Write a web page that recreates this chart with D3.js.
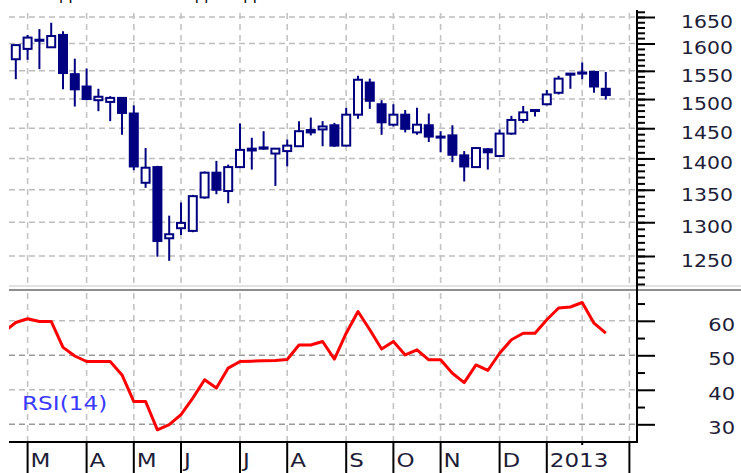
<!DOCTYPE html>
<html><head><meta charset="utf-8">
<script src="https://cdn.jsdelivr.net/npm/d3@7"></script>
<style>html,body{margin:0;padding:0;background:#fff;overflow:hidden}</style>
</head><body><svg id="c" width="741" height="473"></svg>
<script>
// ---------------- data ----------------
const title = "Support levels and upper approach";
const weeks = d3.range(0, 51);
const open  = [1571,1590,1605,1593,1616,1544,1522,1498,1495,1502,1475,1361,1386,1276,1291,1287,1338,1377,1348,1386,1416,1416,1408,1412,1420,1447,1448,1455,1421,1473,1529,1491,1456,1473,1443,1455,1436,1438,1405,1386,1415,1404,1441,1464,1480,1491,1511,1543,1545,1548,1518];
const high  = [1598,1616,1627,1639,1623,1572,1554,1518,1505,1503,1489,1417,1388,1310,1330,1342,1379,1396,1390,1458,1434,1445,1417,1431,1462,1468,1462,1459,1485,1541,1536,1498,1491,1481,1485,1475,1445,1455,1412,1418,1417,1448,1471,1488,1482,1516,1541,1546,1565,1550,1548];
const low   = [1535,1570,1553,1592,1517,1487,1498,1479,1462,1439,1381,1353,1249,1243,1281,1285,1336,1343,1329,1385,1382,1414,1356,1387,1419,1438,1420,1419,1420,1466,1483,1439,1453,1443,1439,1427,1410,1394,1363,1385,1382,1403,1439,1459,1470,1489,1508,1518,1535,1511,1499];
const close = [1597,1611,1607,1614,1546,1517,1500,1504,1502,1476,1387,1385,1272,1282,1299,1340,1377,1350,1386,1414,1413,1418,1416,1421,1445,1443,1453,1421,1473,1534,1497,1460,1473,1449,1456,1436,1435,1406,1387,1417,1410,1441,1464,1477,1481,1508,1536,1545,1547,1522,1507];
const rsiWeeks = d3.range(-1, 51);
const rsi = [56.8,59.5,60.6,59.8,59.8,52.3,49.8,48.2,48.2,48.2,44.3,36.6,36.6,28.4,29.9,32.8,37.6,42.9,40.5,46.3,48.2,48.3,48.4,48.5,48.8,53,53,54,48.9,56.4,62.7,57.4,51.8,54,50.1,51.6,48.7,48.7,44.8,42.1,47.2,45.6,50.6,54.5,56.4,56.4,60.3,63.7,64,65.3,59.3,56.4];
const priceTicks = [1250,1300,1350,1400,1450,1500,1550,1600,1650];
const priceMinorTicks = d3.range(1210, 1661, 10);
const rsiTicks = [30,40,50,60];
const rsiMinorTicks = [35,45,55,65];
const rsiDarkGrid = [30,50];
const monthLabels = ["M","A","M","J","J","A","S","O","N","D","2013"];
const monthStartWeeks = [1,6,10,14,19,23,28,32,36,41,45];
const extraGridWeeks = [48,52];
const bandEndWeek = 52;

// ---------------- layout ----------------
const L = 9, R = 637;
const svg = d3.select("#c");
const x = d3.scaleLinear().domain([0, 50]).range([15.8, 605.8]);
const y = d3.scaleLog().domain([1250, 1650]).range([256, 17]);
const yr = d3.scaleLinear().domain([30, 60]).range([424.3, 320.8]);
const NAVY = "#000080";
const TXT = "#1e1e38";
const FONT = "DejaVu Sans, Verdana, sans-serif";

const defs = svg.append("defs");
defs.append("clipPath").attr("id","cp").append("rect").attr("x",L).attr("y",10).attr("width",R-L).attr("height",275);
defs.append("clipPath").attr("id","cr").append("rect").attr("x",L).attr("y",292).attr("width",R-L).attr("height",149);
defs.append("clipPath").attr("id","ct").append("rect").attr("x",0).attr("y",0).attr("width",741).attr("height",8);

// title (cut off at top)
svg.append("g").attr("clip-path","url(#ct)").append("text")
  .attr("x", 40).attr("y", 0).attr("font-family", FONT).attr("font-size", 15)
  .attr("fill", "#000").text(title);

const gridW = weeks.length ? monthStartWeeks.concat(extraGridWeeks) : [];

// ---- price panel grid ----
const gp = svg.append("g");
gp.selectAll("line.h").data(priceTicks).join("line")
  .attr("x1", L).attr("x2", R).attr("y1", d => y(d)).attr("y2", d => y(d))
  .attr("stroke", "#bdbdbd").attr("stroke-width", 1.6).attr("stroke-dasharray", "6,4");
gp.selectAll("line.v").data(gridW).join("line")
  .attr("x1", d => x(d)).attr("x2", d => x(d)).attr("y1", 13).attr("y2", 284)
  .attr("stroke", "#c4c4c4").attr("stroke-width", 1.6).attr("stroke-dasharray", "6,5");

// ---- RSI panel grid ----
const gr = svg.append("g");
gr.selectAll("line.h").data(rsiTicks).join("line")
  .attr("x1", L).attr("x2", R).attr("y1", d => yr(d)).attr("y2", d => yr(d))
  .attr("stroke", d => rsiDarkGrid.includes(d) ? "#9a9a9a" : "#bdbdbd")
  .attr("stroke-width", 1.6).attr("stroke-dasharray", "6,4");
gr.selectAll("line.v").data(gridW).join("line")
  .attr("x1", d => x(d)).attr("x2", d => x(d)).attr("y1", 293).attr("y2", 441)
  .attr("stroke", "#c4c4c4").attr("stroke-width", 1.6).attr("stroke-dasharray", "6,5");

// ---- candles ----
const cdata = weeks.map((w, i) => ({w, o: open[i], h: high[i], l: low[i], c: close[i]}));
const gc = svg.append("g").attr("clip-path", "url(#cp)");
gc.selectAll("line.wick").data(cdata).join("line")
  .attr("x1", d => x(d.w)).attr("x2", d => x(d.w))
  .attr("y1", d => y(d.h)).attr("y2", d => y(d.l))
  .attr("stroke", NAVY).attr("stroke-width", 2);
gc.selectAll("rect.body").data(cdata).join("rect")
  .attr("x", d => x(d.w) - 4).attr("width", 8)
  .attr("y", d => Math.min(y(d.o), y(d.c)))
  .attr("height", d => Math.max(1, Math.abs(y(d.o) - y(d.c))))
  .attr("fill", d => d.c >= d.o ? "#fff" : NAVY)
  .attr("stroke", NAVY).attr("stroke-width", 2);

// ---- RSI line ----
const rdata = rsiWeeks.map((w, i) => ({w, v: rsi[i]}));
svg.append("g").attr("clip-path", "url(#cr)").append("path")
  .datum(rdata)
  .attr("d", d3.line().x(d => x(d.w)).y(d => yr(d.v)))
  .attr("fill", "none").attr("stroke", "#ff0000").attr("stroke-width", 3)
  .attr("stroke-linejoin", "round");

svg.append("text").attr("transform", "translate(22,410) scale(1.22,1)")
  .attr("font-family", FONT).attr("font-size", 19).attr("fill", "#3a3aff").text("RSI(14)");

// ---- panel separator ----
svg.append("line").attr("x1", L).attr("x2", 741).attr("y1", 286).attr("y2", 286)
  .attr("stroke", "#e2e2e2").attr("stroke-width", 2);
svg.append("line").attr("x1", L).attr("x2", 741).attr("y1", 290).attr("y2", 290)
  .attr("stroke", "#8e8e8e").attr("stroke-width", 2.2);

// ---- price axis ----
const pa = svg.append("g").attr("transform", `translate(${R},0)`);
pa.call(d3.axisRight(y).tickValues(priceMinorTicks).tickSize(8).tickFormat(""));
pa.select(".domain").remove();
const paM = svg.append("g").attr("transform", `translate(${R},0)`);
paM.call(d3.axisRight(y).tickValues(priceTicks).tickSize(18).tickFormat(d3.format("d")));
paM.select(".domain").remove();
svg.selectAll("g.tick line").attr("stroke", "#000").attr("stroke-width", 2);
paM.selectAll("g.tick text")
  .attr("x", 0).attr("dy", null).attr("text-anchor", "end")
  .attr("transform", `translate(${733 - R},10.5) scale(1.2,1)`)
  .attr("font-family", FONT).attr("font-size", 17).attr("fill", TXT);

// ---- RSI axis ----
const ra = svg.append("g").attr("transform", `translate(${R},0)`);
ra.call(d3.axisRight(yr).tickValues(rsiMinorTicks).tickSize(8).tickFormat(""));
ra.select(".domain").remove();
const raM = svg.append("g").attr("transform", `translate(${R},0)`);
raM.call(d3.axisRight(yr).tickValues(rsiTicks).tickSize(18).tickFormat(d3.format("d")));
raM.select(".domain").remove();
svg.selectAll("g.tick line").attr("stroke", "#000").attr("stroke-width", 2);
raM.selectAll("g.tick text")
  .attr("x", 0).attr("dy", null).attr("text-anchor", "end")
  .attr("transform", `translate(${735 - R},9.5) scale(1.2,1)`)
  .attr("font-family", FONT).attr("font-size", 17.5).attr("fill", TXT);

// axis line
svg.append("line").attr("x1", R).attr("x2", R).attr("y1", 10).attr("y2", 442)
  .attr("stroke", "#000").attr("stroke-width", 2);

// ---- x band ----
svg.append("line").attr("x1", L).attr("x2", R + 1).attr("y1", 442).attr("y2", 442)
  .attr("stroke", "#000").attr("stroke-width", 2);
const xb = svg.append("g");
xb.selectAll("line").data(monthStartWeeks.concat([bandEndWeek])).join("line")
  .attr("x1", d => x(d)).attr("x2", d => x(d)).attr("y1", 442).attr("y2", 473)
  .attr("stroke", "#000").attr("stroke-width", 2);
xb.selectAll("text").data(monthStartWeeks.map((w, i) => ({w, t: monthLabels[i]}))).join("text")
  .attr("transform", d => `translate(${x(d.w) + 3},467) scale(1.15,1)`)
  .attr("font-family", FONT).attr("font-size", 20).attr("fill", TXT).text(d => d.t);
svg.append("line").attr("x1", x(48)).attr("x2", x(48)).attr("y1", 442).attr("y2", 445)
  .attr("stroke", "#000").attr("stroke-width", 2);
</script></body></html>
